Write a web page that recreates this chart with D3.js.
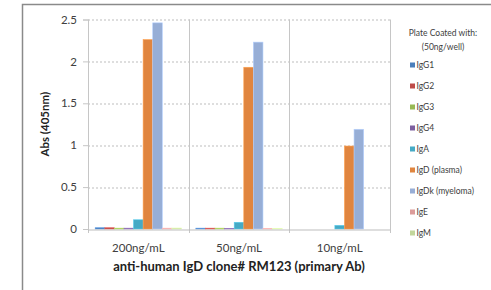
<!DOCTYPE html>
<html>
<head>
<meta charset="utf-8">
<script src="https://cdn.jsdelivr.net/npm/d3@7"></script>
<style>
body { margin: 0; background: #fff; }
svg { display: block; font-family: Lato, "Open Sans", sans-serif; }
</style>
</head>
<body>
<svg id="chart" width="491" height="290"></svg>
<script>
// data
var groups = ["200ng/mL", "50ng/mL", "10ng/mL"];
var series = ["IgG1", "IgG2", "IgG3", "IgG4", "IgA", "IgD (plasma)", "IgDk (myeloma)", "IgE", "IgM"];
var colors = ["#4a7ebb", "#be4b48", "#98b954", "#7d60a0", "#46aac5", "#e0853f", "#97aed6", "#dc9c9a", "#c2d69b"];
var vals200 = [0.015, 0.015, 0.01, 0.01, 0.11, 2.26, 2.46, 0.01, 0.012];
var vals50 = [0.01, 0.01, 0.01, 0.005, 0.08, 1.93, 2.23, 0.008, 0.008];
var vals10 = [0, 0, 0, 0, 0.043, 0.99, 1.19, 0, 0];
var yTicks = [0, 0.5, 1, 1.5, 2, 2.5];
var yTickLabels = ["0", "0.5", "1", "1.5", "2", "2.5"];

var table = [vals200, vals50, vals10].map(function(v, i) {
  var row = {group: groups[i]};
  series.forEach(function(s, j) { row[s] = v[j]; });
  return row;
});

var svg = d3.select("#chart");
var margin = {left: 88, right: 101, top: 19.5, bottom: 61};
var width = 491 - margin.left - margin.right;
var height = 290 - margin.top - margin.bottom;

// outer frame (cropped by the picture edges)
svg.append("path")
  .attr("d", "M22.5,300 V4.5 H500")
  .attr("fill", "none")
  .attr("stroke", "#8a8a8a")
  .attr("stroke-width", 1.5);

var g = svg.append("g").attr("transform", "translate(" + margin.left + "," + margin.top + ")");

var x0 = d3.scaleBand().domain(groups).range([0, width]).padding(0);
var x1 = d3.scaleBand().domain(series).range([0, x0.bandwidth()]).paddingInner(0).paddingOuter(0.75);
var y = d3.scaleLinear().domain([0, 2.5]).range([height, 0]);
var color = d3.scaleOrdinal().domain(series).range(colors);

// horizontal dashed gridlines
g.append("g")
  .selectAll("line")
  .data(yTicks.slice(1))
  .enter().append("line")
  .attr("x1", 0).attr("x2", width)
  .attr("y1", function(d) { return Math.round(y(d)) + 0.5; })
  .attr("y2", function(d) { return Math.round(y(d)) + 0.5; })
  .attr("stroke", "#bdbdbd")
  .attr("stroke-dasharray", "2,2");

// vertical category separators
var seps = groups.map(function(d) { return x0(d); }).concat([width]);
g.append("g")
  .selectAll("line")
  .data(seps)
  .enter().append("line")
  .attr("x1", function(d) { return Math.round(d) + 0.5; })
  .attr("x2", function(d) { return Math.round(d) + 0.5; })
  .attr("y1", 0).attr("y2", height + 4)
  .attr("stroke", "#c6c6c6");

// bars
g.append("g")
  .selectAll("g")
  .data(table)
  .enter().append("g")
  .attr("transform", function(d) { return "translate(" + x0(d.group) + ",0)"; })
  .selectAll("rect")
  .data(function(d) { return series.map(function(s) { return {key: s, v: d[s]}; }); })
  .enter().append("rect")
  .attr("x", function(d) { return x1(d.key); })
  .attr("y", function(d) { return y(d.v); })
  .attr("width", x1.bandwidth())
  .attr("height", function(d) { return height - y(d.v); })
  .attr("fill", function(d) { return color(d.key); })
  .attr("stroke", function(d) { return d3.color(color(d.key)).brighter(0.5); })
  .attr("stroke-width", 0.6);

// baseline
g.append("line")
  .attr("x1", 0).attr("x2", width)
  .attr("y1", Math.round(height) + 0.5).attr("y2", Math.round(height) + 0.5)
  .attr("stroke", "#bdbdbd");

// y axis
var yAxis = g.append("g")
  .call(d3.axisLeft(y).tickValues(yTicks).tickSize(5).tickFormat(function(d, i) { return yTickLabels[i]; }));
yAxis.select(".domain").attr("stroke", "#c6c6c6");
yAxis.selectAll(".tick line").attr("stroke", "#c6c6c6");
yAxis.selectAll("text").attr("font-size", 11.5).attr("fill", "#404040").attr("x", -11).attr("font-family", "Lato, sans-serif");

// category labels
g.append("g")
  .selectAll("text")
  .data(groups)
  .enter().append("text")
  .attr("x", function(d) { return x0(d) + x0.bandwidth() / 2; })
  .attr("y", height + 23)
  .attr("text-anchor", "middle")
  .attr("font-size", 11.5)
  .attr("fill", "#404040")
  .text(function(d) { return d; });

// axis titles
g.append("text")
  .attr("x", width / 2)
  .attr("y", height + 42)
  .attr("text-anchor", "middle")
  .attr("font-size", 13)
  .attr("font-weight", "bold")
  .attr("fill", "#222")
  .text("anti-human IgD clone# RM123 (primary Ab)");

g.append("text")
  .attr("transform", "translate(-39," + (height / 2) + ") rotate(-90)")
  .attr("text-anchor", "middle")
  .attr("font-size", 11.5)
  .attr("font-weight", "bold")
  .attr("fill", "#222")
  .text("Abs (405nm)");

// legend
var lg = svg.append("g").attr("font-size", 8.5).attr("fill", "#404040");
lg.append("text").attr("x", 443).attr("y", 36).attr("text-anchor", "middle").attr("fill", "#404040").text("Plate Coated with:");
lg.append("text").attr("x", 443).attr("y", 50).attr("text-anchor", "middle").attr("fill", "#404040").text("(50ng/well)");

var item = lg.selectAll("g.item")
  .data(series)
  .enter().append("g")
  .attr("class", "item")
  .attr("transform", function(d, i) { return "translate(410," + (65 + i * 21) + ")"; });

item.append("rect")
  .attr("x", 0).attr("y", -2.5)
  .attr("width", 5).attr("height", 5)
  .attr("fill", function(d) { return color(d); });

item.append("text")
  .attr("x", 6.5)
  .attr("dy", "0.35em")
  .attr("fill", "#404040")
  .text(function(d) { return d; });
</script>
</body>
</html>
